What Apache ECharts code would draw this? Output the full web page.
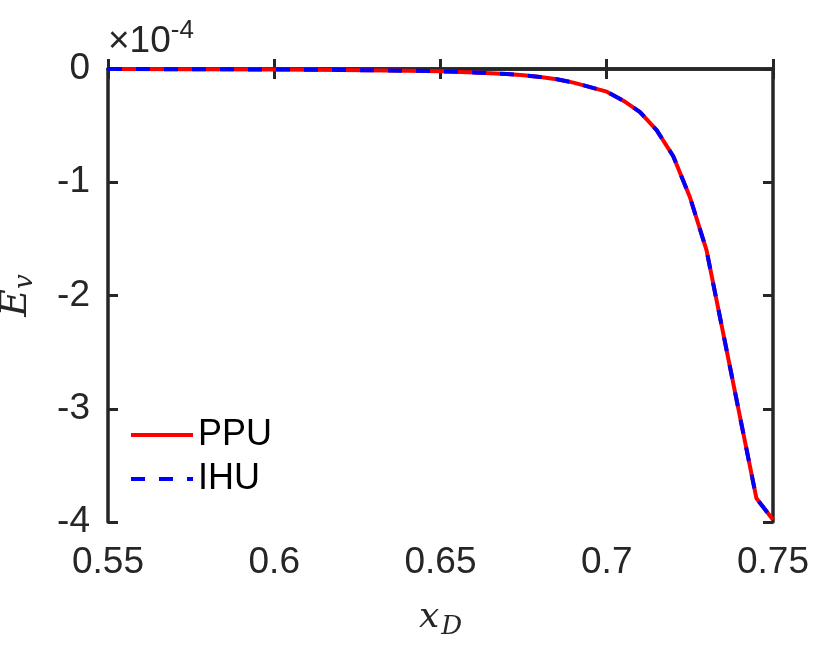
<!DOCTYPE html>
<html>
<head>
<meta charset="utf-8">
<script src="https://cdn.jsdelivr.net/npm/echarts@6/dist/echarts.min.js"></script>
<style>
  html, body { margin: 0; padding: 0; background: #fff; }
  #chart { width: 821px; height: 669px; }
</style>
</head>
<body>
<div id="chart"></div>
<script>
// x_D values and E_v (in units of 1e-4)
const xD = [0.55, 0.6, 0.62, 0.64, 0.65, 0.66, 0.67, 0.675, 0.68, 0.685, 0.69, 0.695, 0.7, 0.705, 0.71, 0.715, 0.72, 0.725, 0.73, 0.735, 0.74, 0.745, 0.75]
const ppu = [0, -0.004, -0.008, -0.015, -0.02, -0.03, -0.045, -0.055, -0.07, -0.09, -0.12, -0.16, -0.2, -0.28, -0.38, -0.54, -0.77, -1.13, -1.6, -2.33, -3.06, -3.79, -3.98]
const ihu = [0, -0.004, -0.008, -0.015, -0.02, -0.03, -0.045, -0.055, -0.07, -0.09, -0.12, -0.16, -0.2, -0.28, -0.38, -0.54, -0.77, -1.13, -1.6, -2.33, -3.06, -3.79, -3.98]
const xTicks = ['0.55', '0.6', '0.65', '0.7', '0.75']

const axisColor = '#262626'
const font = 'Liberation Sans, Arial, sans-serif'
const serif = 'DejaVu Serif, Liberation Serif, serif'

let chart = echarts.init(document.getElementById('chart'))

function pairs(xs, ys) {
  return xs.map((x, i) => [x, ys[i]])
}

let tickLine = {show: true, inside: true, length: 10, lineStyle: {color: axisColor, width: 3}}
let axisLine = {show: true, lineStyle: {color: axisColor, width: 3.5}}

let option = {
  animation: false,
  grid: {left: 108, right: 48, top: 69, bottom: 147, containLabel: false, outerBoundsMode: 'none'},
  legend: {
    left: 124, top: 412, orient: 'vertical',
    itemWidth: 62, itemHeight: 20, itemGap: 8, itemStyle: {opacity: 0},
    lineStyle: {width: 4},
    textStyle: {fontSize: 36, color: '#000', fontFamily: font, padding: [0, 0, 0, 0]},
    data: ['PPU', 'IHU']
  },
  xAxis: [
    {
      type: 'value', min: 0.55, max: 0.75, interval: 0.05,
      axisLine: axisLine, axisTick: tickLine, splitLine: {show: false},
      axisLabel: {
        fontSize: 37, color: axisColor, fontFamily: font, margin: 22,
        formatter: v => {
          let s = (Math.round(v * 100) / 100).toString()
          return xTicks.indexOf(s) >= 0 ? s : ''
        }
      },
      name: '{i|x}{s|D}', nameLocation: 'middle', nameGap: 74,
      nameTextStyle: {
        rich: {
          i: {fontSize: 36, fontStyle: 'italic', fontFamily: serif, color: axisColor},
          s: {fontSize: 26, fontStyle: 'italic', fontFamily: serif, color: axisColor, padding: [18, 0, 0, 2]}
        }
      }
    },
    {
      type: 'value', position: 'top', min: 0.55, max: 0.75, interval: 0.05,
      axisLine: axisLine, axisTick: tickLine, axisLabel: {show: false}, splitLine: {show: false}
    }
  ],
  yAxis: [
    {
      type: 'value', min: -4, max: 0, interval: 1,
      axisLine: axisLine, axisTick: tickLine, splitLine: {show: false},
      axisLabel: {fontSize: 37, color: axisColor, fontFamily: font, margin: 18},
      name: '{i|E}{s|v}', nameLocation: 'middle', nameGap: 70, nameRotate: 90,
      nameTextStyle: {
        rich: {
          i: {fontSize: 38, fontStyle: 'italic', fontFamily: serif, color: axisColor},
          s: {fontSize: 26, fontStyle: 'italic', fontFamily: serif, color: axisColor, padding: [18, 0, 0, 0]}
        }
      }
    },
    {
      type: 'value', position: 'right', min: -4, max: 0, interval: 1,
      axisLine: axisLine, axisTick: tickLine, axisLabel: {show: false}, splitLine: {show: false}
    }
  ],
  graphic: [
    {
      type: 'text', left: 108, top: 18,
      style: {
        text: '{m|×10}{e|-4}',
        rich: {
          m: {fontSize: 37, fontFamily: font, fill: axisColor},
          e: {fontSize: 26, fontFamily: font, fill: axisColor, padding: [0, 0, 22, 0]}
        }
      }
    }
  ],
  series: [
    {
      name: 'PPU', type: 'line', data: pairs(xD, ppu), symbol: 'none',
      lineStyle: {color: '#ff0000', width: 4}, itemStyle: {color: '#ff0000'}
    },
    {
      name: 'IHU', type: 'line', data: pairs(xD, ihu), symbol: 'none',
      lineStyle: {color: '#0000ff', width: 4, type: [14, 14]}, itemStyle: {color: '#0000ff'}
    }
  ]
}
chart.setOption(option)
</script>
</body>
</html>
